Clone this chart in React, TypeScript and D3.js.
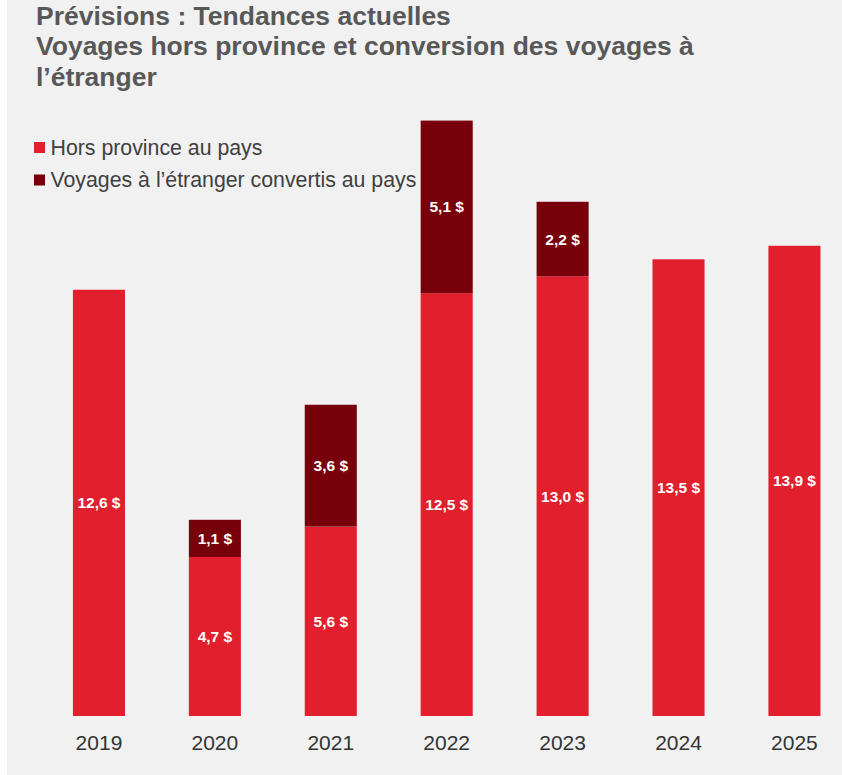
import React from 'react';
import { scaleBand, scaleLinear } from 'd3';

const years = ['2019', '2020', '2021', '2022', '2023', '2024', '2025'];
const domestic = [12.6, 4.7, 5.6, 12.5, 13.0, 13.5, 13.9];
const converted = [0, 1.1, 3.6, 5.1, 2.2, 0, 0];

const titleLines = [
    'Prévisions : Tendances actuelles',
    'Voyages hors province et conversion des voyages à',
    'l’étranger',
];
const legendItems = ['Hors province au pays', 'Voyages à l’étranger convertis au pays'];

const RED = '#e11f2d';
const DARK = '#78000a';
const W = 842;
const H = 775;

function fmt(v: number) {
    return `${v.toFixed(1).replace('.', ',')} $`;
}

export default function App() {
    // bandes de 52 px, pas de ~116 px
    const x = scaleBand().domain(years).range([41, 852.4]).paddingInner(0.551).paddingOuter(0.2755);
    const y = scaleLinear().domain([0, 20]).range([716, 39.4]);
    const bw = x.bandwidth();

    const label = (cx: number, top: number, bottom: number, v: number) => (
        <text
            x={cx}
            y={(top + bottom) / 2 + 5.6}
            textAnchor="middle"
            fontSize={15.5}
            fontWeight="bold"
            fill="#ffffff"
        >
            {fmt(v)}
        </text>
    );

    return (
        <div style={{ position: 'absolute', left: 0, top: 0 }}>
            <svg width={W} height={H} style={{ display: 'block', fontFamily: '"Liberation Sans", Arial, sans-serif' }}>
                <rect x={0} y={0} width={W} height={H} fill="#ffffff" />
                <rect x={7} y={0} width={W - 7} height={H} fill="#f1f1f1" />

                {titleLines.map((t, i) => (
                    <text key={t} x={36} y={25 + i * 30.3} fontSize={26.5} fontWeight="bold" fill="#585858">
                        {t}
                    </text>
                ))}

                {legendItems.map((t, i) => (
                    <g key={t} transform={`translate(34, ${142 + i * 32.5})`}>
                        <rect x={0} y={0} width={11} height={11} fill={i === 0 ? RED : DARK} />
                        <text x={16.5} y={12.7} fontSize={21.3} fill="#404040">
                            {t}
                        </text>
                    </g>
                ))}

                {years.map((yr, i) => {
                    const x0 = x(yr) ?? 0;
                    const cx = x0 + bw / 2;
                    const d = domestic[i];
                    const c = converted[i];
                    return (
                        <g key={yr}>
                            <rect x={x0} y={y(d)} width={bw} height={y(0) - y(d)} fill={RED} />
                            {label(cx, y(d), y(0), d)}
                            {c > 0 ? (
                                <>
                                    <rect x={x0} y={y(d + c)} width={bw} height={y(d) - y(d + c)} fill={DARK} />
                                    {label(cx, y(d + c), y(d), c)}
                                </>
                            ) : null}
                            <text x={cx} y={749.5} textAnchor="middle" fontSize={21} fill="#333333">
                                {yr}
                            </text>
                        </g>
                    );
                })}
            </svg>
        </div>
    );
}
